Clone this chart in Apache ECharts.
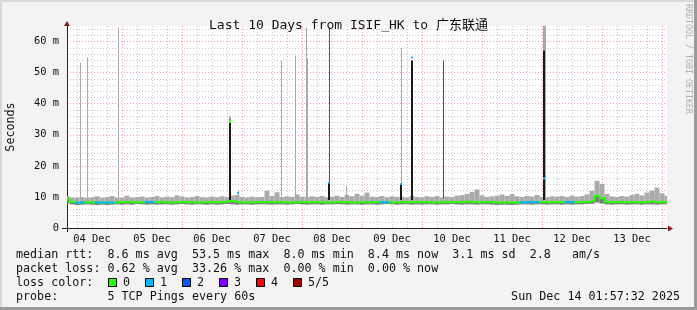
<!DOCTYPE html>
<html><head><meta charset="utf-8">
<script src="https://cdn.jsdelivr.net/npm/echarts@6/dist/echarts.min.js"></script>
<style>html,body{margin:0;padding:0;background:#f3f3f3}#c{width:697px;height:310px}</style>
</head><body><div id="c"></div><script>
// ---------- data ----------
const titleText = 'Last 10 Days from ISIF_HK to 广东联通';
const yTickValues = [0, 10, 20, 30, 40, 50, 60];
const yMinorValues = [2,4,6,8,12,14,16,18,22,24,26,28,32,34,36,38,42,44,46,48,52,54,56,58,62,64];
const dayLabels = ['04 Dec','05 Dec','06 Dec','07 Dec','08 Dec','09 Dec','10 Dec','11 Dec','12 Dec','13 Dec'];
const dayLabelHours = [12, 36, 60, 84, 108, 132, 156, 180, 204, 228];   // hours since 04 Dec 00:00
const midnightHours = [24, 48, 72, 96, 120, 144, 168, 192, 216, 240];
const sixHourHours = [6,12,18,30,36,42,54,60,66,78,84,90,102,108,114,126,132,138,150,156,162,174,180,186,198,204,210,222,228,234];
const timeStart = 2, timeEnd = 242, sampleStep = 2;   // one sample every 2 hours

// smoke low (fastest ping), median, smoke high (slowest ping), in ms
const smokeLow = [
 8.0,7.6,7.4,7.5,7.6,7.5,7.4,7.5,7.4,7.5,
 7.6,7.5,7.6,7.5,7.7,7.6,7.5,7.6,7.5,7.6,
 7.6,7.5,7.6,7.7,7.6,7.5,7.6,7.6,7.5,7.6,
 7.5,7.6,7.7,7.6,7.5,7.6,7.6,7.5,7.6,7.6,
 7.6,7.5,7.6,7.6,7.5,7.6,7.7,7.6,7.5,7.6,
 7.6,7.5,7.6,7.6,7.7,7.6,7.5,7.6,7.6,7.5,
 7.6,7.6,7.5,7.6,7.7,7.6,7.5,7.6,7.6,7.5,
 7.6,7.5,7.6,7.6,7.5,7.6,7.6,7.7,7.6,7.5,
 7.6,7.6,7.5,7.6,7.6,7.5,7.4,7.5,7.5,7.4,
 7.5,7.6,7.6,7.5,7.6,7.6,7.5,7.6,7.6,7.5,
 7.6,7.5,7.6,7.6,7.7,7.8,8.2,7.9,7.6,7.5,
 7.6,7.6,7.5,7.6,7.6,7.5,7.6,7.6,7.5,7.6,7.6];
const medianRtt = [
 9.4,8.4,8.1,8.2,8.3,8.2,8.2,8.1,8.2,8.1,
 8.3,8.4,8.3,8.4,8.3,8.2,8.4,8.3,8.3,8.4,
 8.3,8.2,8.3,8.4,8.3,8.3,8.2,8.3,8.4,8.3,
 8.3,8.4,8.5,8.6,8.4,8.3,8.2,8.3,8.4,8.3,
 8.4,8.3,8.4,8.3,8.2,8.3,8.3,8.4,8.3,8.3,
 8.4,8.3,8.2,8.3,8.4,8.3,8.3,8.2,8.3,8.4,
 8.3,8.3,8.4,8.3,8.3,8.2,8.3,8.4,8.3,8.3,
 8.4,8.3,8.3,8.2,8.3,8.4,8.3,8.3,8.4,8.3,
 8.5,8.4,8.3,8.3,8.4,8.3,8.2,8.2,8.3,8.2,
 8.2,8.3,8.4,8.3,8.3,8.4,8.3,8.3,8.4,8.3,
 8.4,8.3,8.3,8.4,8.4,8.8,10.4,9.6,8.4,8.3,
 8.4,8.3,8.3,8.4,8.3,8.3,8.4,8.5,8.3,8.4,8.3];
const smokeHigh = [
 10.2,9.8,9.7,9.9,9.6,9.8,10.2,9.7,9.9,10.3,
 9.8,9.7,10.4,9.8,9.9,10.1,9.7,10.0,10.3,9.8,
 10.1,9.9,10.5,10.2,9.8,10.0,10.3,9.9,9.8,10.1,
 9.9,10.2,10.0,10.4,10.6,10.0,9.8,10.1,9.9,10.0,
 12.0,10.3,11.5,9.9,10.2,10.0,10.8,10.1,9.9,10.2,
 10.0,10.3,9.9,10.1,10.4,10.0,10.6,10.2,11.0,10.4,
 11.4,10.1,10.0,10.3,9.9,10.2,10.0,10.1,9.8,10.3,
 10.0,9.9,10.2,10.0,10.3,9.8,10.1,10.0,10.4,10.6,
 11.0,11.6,12.4,10.5,10.0,10.2,10.4,10.8,10.3,10.9,
 10.2,10.0,10.3,10.1,10.6,10.0,9.9,10.2,10.1,10.3,
 10.0,10.4,10.1,10.3,10.8,12.0,15.2,14.2,11.0,10.2,
 10.0,10.3,10.1,10.6,11.0,10.5,11.4,12.0,13.0,11.2,10.4];
// sample-index runs where the median had 1 lost ping (blue)
const lossOneRuns = [[2,3],[6,9],[16,17],[63,64],[91,94],[100,101]];

// isolated spikes: [hour, from ms, to ms]
const spikesLight = [[7.3,9.5,53.2],[10.1,9.5,54.8],[22.4,9.5,64.6],[70.5,9.5,12.0],[87.7,9.5,53.8],[93.0,9.5,55.4],[97.6,9.5,64.6],[113.7,9.5,13.4],[135.4,9.5,57.9]];
const spikesLightWide = [[98.0,9.5,54.6],[67.0,9.5,35.9]];
const spikesLightBroad = [[192.9,9.5,65]];
const spikesDark = [[106.6,9.5,64.6],[152.2,9.5,53.9]];
const spikesBlack = [[67.3,9.0,34.8],[106.6,9.0,14.5],[135.4,9.0,13.9],[140.0,9.0,53.9],[192.9,9.0,57.0]];
const spikesBlueTips = [[106.6,14.2,14.9],[135.4,13.8,14.4],[140.0,54.6,55.2],[70.5,11.0,11.6],[192.9,15.6,16.3]];
const spikesGreenTips = [[67.3,33.8,34.8]];

const legendRows = [
  'median rtt:  8.6 ms avg  53.5 ms max  8.0 ms min  8.4 ms now  3.1 ms sd  2.8   am/s',
  'packet loss: 0.62 % avg  33.26 % max  0.00 % min  0.00 % now'
];
const lossColorLabels = ['0','1','2','3','4','5/5'];
const lossColors = ['#26ff00','#00b8ff','#0059ff','#7e00ff','#ff0000','#a10000'];
const probeText = 'probe:       5 TCP Pings every 60s';
const dateText = 'Sun Dec 14 01:57:32 2025';

// ---------- build ----------
const hours = smokeLow.map((_, i) => timeStart + i * sampleStep);
const smokeData = hours.map((h, i) => [h, smokeLow[i], medianRtt[i], smokeHigh[i]]);
const medGreen = hours.map((h, i) => [h, medianRtt[i]]);
const medBlue = hours.map((h, i) => [h, lossOneRuns.some(r => i >= r[0] && i <= r[1]) ? medianRtt[i] : null]);

const MONO = '"DejaVu Sans Mono", monospace';
const chart = echarts.init(document.getElementById('c'), null, {renderer: 'canvas'});

function spikeSeries(data, color, width, z) {
  return {
    type: 'custom', xAxisIndex: 1, yAxisIndex: 1, data, z: z || 4, silent: true, clip: true,
    renderItem: (params, api) => {
      const a = api.coord([api.value(0), api.value(1)]);
      const b = api.coord([api.value(0), api.value(2)]);
      const x = width % 2 ? Math.round(a[0]) + 0.5 : Math.round(a[0]);
      return {type: 'line', shape: {x1: x, y1: a[1], x2: x, y2: b[1]}, style: {stroke: color, lineWidth: width}};
    }
  };
}

const smokeSeries = {
  type: 'custom', xAxisIndex: 1, yAxisIndex: 1, data: smokeData, z: 2, silent: true, clip: true,
  renderItem: (params, api) => {
    const h = api.value(0);
    const xa = api.coord([h - sampleStep / 2, 0])[0];
    const xb = api.coord([h + sampleStep / 2, 0])[0];
    const yLo = api.coord([h, api.value(1)])[1];
    const yMed = api.coord([h, api.value(2)])[1];
    const yHi = api.coord([h, api.value(3)])[1];
    return {type: 'group', children: [
      {type: 'rect', shape: {x: xa, y: yMed, width: xb - xa, height: yLo - yMed}, style: {fill: '#7a7a7a'}},
      {type: 'rect', shape: {x: xa, y: yHi, width: xb - xa, height: yMed - yHi}, style: {fill: '#ababab'}}
    ]};
  }
};

const minorGrid = {show: true, lineStyle: {color: '#c8c8c8', type: [1, 2], width: 1}};
const majorGrid = {show: true, lineStyle: {color: '#f0a0a0', type: [1, 2], width: 1}};

// legend graphics
const graphics = [];
const textBase = {fontFamily: MONO, fontSize: 11.7, fill: '#111', verticalAlign: 'middle'};
legendRows.forEach((t, k) => graphics.push({type: 'text', left: 16, top: 249 + k * 13.7, style: Object.assign({text: t}, textBase)}));
graphics.push({type: 'text', left: 16, top: 276.5, style: Object.assign({text: 'loss color:'}, textBase)});
lossColorLabels.forEach((t, k) => {
  const x0 = 108 + k * 37;
  graphics.push({type: 'rect', shape: {x: x0 + 0.5, y: 278.5, width: 8, height: 8}, style: {fill: lossColors[k], stroke: '#000', lineWidth: 1}});
  graphics.push({type: 'text', left: x0 + 15, top: 276.5, style: Object.assign({text: t}, textBase)});
});
graphics.push({type: 'text', left: 16, top: 290.5, style: Object.assign({text: probeText}, textBase)});
graphics.push({type: 'text', right: 17, top: 290.5, style: Object.assign({text: dateText}, textBase)});
// y-axis name
graphics.push({type: 'text', x: 11, y: 127, rotation: Math.PI / 2, style: {text: 'Seconds', fontFamily: MONO, fontSize: 11.7, fill: '#111', align: 'center', verticalAlign: 'middle'}});
// side label
graphics.push({type: 'text', x: 688, y: 4, rotation: -Math.PI / 2, style: {text: 'RRDTOOL / TOBI OETIKER', fontFamily: MONO, fontSize: 8.3, fill: '#b0b0b0', align: 'left', verticalAlign: 'middle'}});
// frame
graphics.push({type: 'rect', shape: {x: 0, y: 0, width: 697, height: 2}, style: {fill: '#d8d8d8'}});
graphics.push({type: 'rect', shape: {x: 0, y: 0, width: 2, height: 310}, style: {fill: '#d8d8d8'}});
graphics.push({type: 'rect', shape: {x: 694, y: 0, width: 3, height: 310}, style: {fill: '#9a9a9a'}});
graphics.push({type: 'rect', shape: {x: 0, y: 307, width: 697, height: 3}, style: {fill: '#9a9a9a'}});
// axis extensions and arrows
graphics.push({type: 'line', z: 10, shape: {x1: 62, y1: 228.5, x2: 67, y2: 228.5}, style: {stroke: '#222', lineWidth: 1}});
graphics.push({type: 'line', z: 10, shape: {x1: 67.5, y1: 228, x2: 67.5, y2: 232}, style: {stroke: '#222', lineWidth: 1}});
graphics.push({type: 'polygon', z: 10, shape: {points: [[67, 21], [64, 26], [70, 26]]}, style: {fill: '#8b1a1a'}});
graphics.push({type: 'polygon', z: 10, shape: {points: [[673, 228.5], [668, 225.5], [668, 231.5]]}, style: {fill: '#8b1a1a'}});

const option = {
  backgroundColor: '#f3f3f3',
  animation: false,
  title: {text: titleText, left: 'center', top: 14, textStyle: {fontFamily: MONO + ', "Noto Sans CJK SC"', fontSize: 13, fontWeight: 'normal', color: '#111'}},
  grid: {left: 67, top: 26, right: 30, bottom: 82, show: true, backgroundColor: '#ffffff', borderWidth: 0},
  xAxis: [
    {type: 'value', position: 'bottom', min: timeStart, max: timeEnd, axisLine: {show: false}, axisLabel: {show: false},
     axisTick: {show: false, customValues: sixHourHours}, splitLine: minorGrid},
    {type: 'value', position: 'bottom', min: timeStart, max: timeEnd,
     axisLine: {show: true, onZero: false, lineStyle: {color: '#222', width: 1}},
     axisTick: {show: false, customValues: midnightHours}, splitLine: majorGrid,
     axisLabel: {customValues: dayLabelHours, margin: 6, fontFamily: MONO, fontSize: 10.4, color: '#111',
       formatter: v => dayLabels[dayLabelHours.indexOf(v)]}}
  ],
  yAxis: [
    {type: 'value', position: 'left', min: 0, max: 65, axisLine: {show: false}, axisLabel: {show: false},
     axisTick: {show: false, customValues: yMinorValues}, splitLine: minorGrid},
    {type: 'value', position: 'left', min: 0, max: 65,
     axisLine: {show: true, onZero: false, lineStyle: {color: '#222', width: 1}},
     axisTick: {show: false, customValues: yTickValues}, splitLine: majorGrid,
     axisLabel: {customValues: yTickValues, margin: 8, fontFamily: MONO, fontSize: 10.4, color: '#111',
       formatter: v => v === 0 ? '0' : v + ' m'}}
  ],
  series: [
    smokeSeries,
    spikeSeries(spikesLight, '#a8a8a8', 1, 3),
    spikeSeries(spikesLightWide, '#a8a8a8', 2, 3),
    spikeSeries(spikesLightBroad, '#a8a8a8', 3, 3),
    spikeSeries(spikesDark, '#555555', 1, 3),
    spikeSeries(spikesBlack, '#1a1a1a', 2, 4),
    {type: 'line', xAxisIndex: 1, yAxisIndex: 1, data: medGreen, step: 'middle', symbol: 'none', lineStyle: {color: '#26ff00', width: 2}, silent: true, z: 5},
    {type: 'line', xAxisIndex: 1, yAxisIndex: 1, data: medBlue, step: 'middle', symbol: 'none', connectNulls: false, lineStyle: {color: '#00b8ff', width: 2}, silent: true, z: 6},
    spikeSeries(spikesBlueTips, '#00b8ff', 2, 7),
    spikeSeries(spikesGreenTips, '#26ff00', 2, 7)
  ],
  graphic: graphics
};
chart.setOption(option);
</script></body></html>
